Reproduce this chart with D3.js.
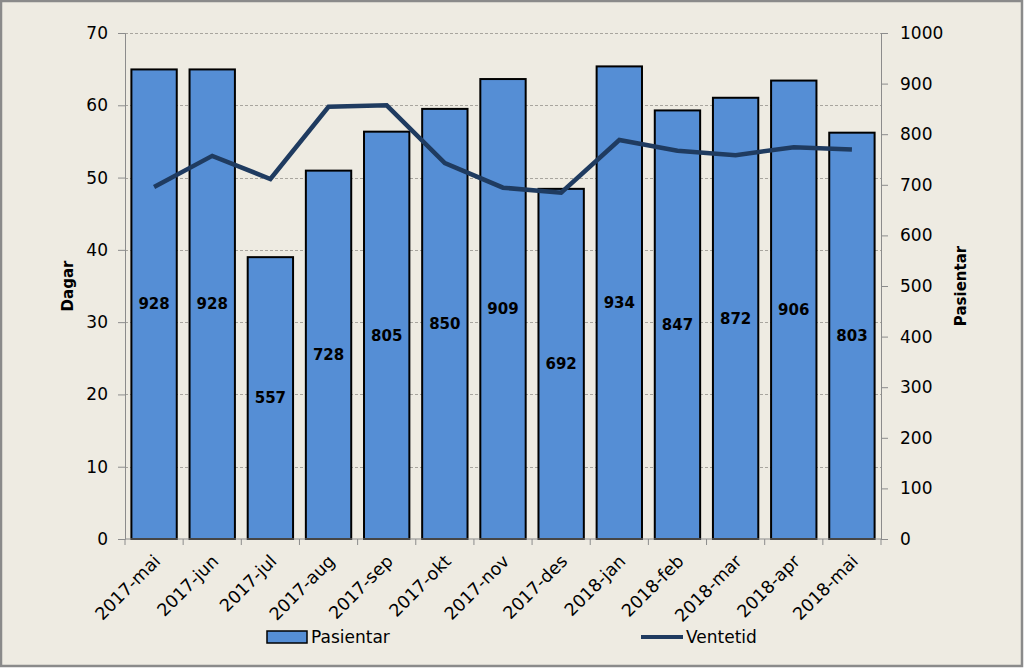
<!DOCTYPE html>
<html>
<head>
<meta charset="utf-8">
<script src="https://cdn.jsdelivr.net/npm/d3@7"></script>
<style>
  body { margin: 0; background: #fff; }
  svg { display: block; font-family: "DejaVu Sans", Verdana, sans-serif; }
</style>
</head>
<body>
<div id="chart"></div>
<script>
// data
const months = ["2017-mai", "2017-jun", "2017-jul", "2017-aug", "2017-sep", "2017-okt", "2017-nov",
  "2017-des", "2018-jan", "2018-feb", "2018-mar", "2018-apr", "2018-mai"];
const pasientar = [928, 928, 557, 728, 805, 850, 909, 692, 934, 847, 872, 906, 803];
const ventetid = [48.7, 53.0, 49.8, 59.8, 60.0, 52.0, 48.6, 47.9, 55.2, 53.7, 53.1, 54.2, 53.9];
const leftTicks = [0, 10, 20, 30, 40, 50, 60, 70];
const rightTicks = [0, 100, 200, 300, 400, 500, 600, 700, 800, 900, 1000];

const W = 1024, H = 669;
const plot = { left: 125, right: 881, top: 33, bottom: 539 };

const svg = d3.select("#chart").append("svg")
  .attr("width", W).attr("height", H);

// background + frame
svg.append("rect").attr("x", 1).attr("y", 1).attr("width", W - 3).attr("height", H - 4)
  .attr("fill", "#eeebe2").attr("stroke", "#8a8a8a").attr("stroke-width", 2.5);

const x = d3.scaleBand().domain(months).range([plot.left, plot.right]).paddingInner(0.22).paddingOuter(0.11);
const yL = d3.scaleLinear().domain([0, 70]).range([plot.bottom, plot.top]);
const yR = d3.scaleLinear().domain([0, 1000]).range([plot.bottom, plot.top]);

// gridlines
svg.append("g").selectAll("line").data(leftTicks.filter(d => d > 0)).join("line")
  .attr("x1", plot.left).attr("x2", plot.right)
  .attr("y1", d => Math.round(yL(d)) + 0.5).attr("y2", d => Math.round(yL(d)) + 0.5)
  .attr("stroke", "#a8a59e").attr("stroke-dasharray", "3,2").attr("stroke-width", 1);

// bars
svg.append("g").selectAll("rect").data(pasientar).join("rect")
  .attr("x", (d, i) => x(months[i]))
  .attr("y", d => yR(d))
  .attr("width", x.bandwidth())
  .attr("height", d => plot.bottom - yR(d))
  .attr("fill", "#558ed5").attr("stroke", "#000").attr("stroke-width", 2);

// value labels
svg.append("g").selectAll("text").data(pasientar).join("text")
  .attr("x", (d, i) => x(months[i]) + x.bandwidth() / 2)
  .attr("y", d => (yR(d) + plot.bottom) / 2)
  .attr("text-anchor", "middle").attr("dy", "0.35em")
  .attr("font-size", 15).attr("font-weight", "bold").attr("fill", "#000")
  .text(d => d);

// line
const line = d3.line()
  .x((d, i) => x(months[i]) + x.bandwidth() / 2)
  .y(d => yL(d));
svg.append("path").datum(ventetid).attr("d", line)
  .attr("fill", "none").attr("stroke", "#1f3b60").attr("stroke-width", 4.5)
  .attr("stroke-linejoin", "miter");

// axes
const axisStyle = g => {
  g.selectAll(".domain").attr("stroke", "#8c8c8c");
  g.selectAll(".tick line").attr("stroke", "#8c8c8c");
  g.selectAll("text").attr("font-size", 17).attr("fill", "#000")
    .attr("font-family", "'DejaVu Sans', Verdana, sans-serif");
};

svg.append("g").attr("transform", `translate(${plot.left},0)`)
  .call(d3.axisLeft(yL).tickValues(leftTicks).tickSizeOuter(0).tickSize(7).tickPadding(10))
  .call(axisStyle);

svg.append("g").attr("transform", `translate(${plot.right},0)`)
  .call(d3.axisRight(yR).tickValues(rightTicks).tickFormat(d3.format("d"))
    .tickSizeOuter(0).tickSize(7).tickPadding(12))
  .call(axisStyle);

// bottom axis with ticks at band boundaries
const xAxis = svg.append("g").attr("transform", `translate(0,${plot.bottom})`);
xAxis.append("line").attr("x1", plot.left).attr("x2", plot.right)
  .attr("stroke", "#8c8c8c");
const bounds = d3.range(months.length + 1).map(i => plot.left + i * (plot.right - plot.left) / months.length);
xAxis.selectAll("line.tk").data(bounds).join("line").attr("class", "tk")
  .attr("x1", d => d).attr("x2", d => d).attr("y1", 0).attr("y2", 6)
  .attr("stroke", "#8c8c8c");
xAxis.selectAll("text").data(months).join("text")
  .attr("transform", d => `translate(${x(d) + x.bandwidth() / 2 + 3},${19}) rotate(-45)`)
  .attr("text-anchor", "end").attr("dy", "0.35em")
  .attr("font-size", 17.5).attr("fill", "#000")
  .text(d => d);

// axis titles
svg.append("text").attr("transform", "translate(73,286) rotate(-90)")
  .attr("text-anchor", "middle").attr("font-size", 15).attr("font-weight", "bold").text("Dagar");
svg.append("text").attr("transform", "translate(966,286) rotate(-90)")
  .attr("text-anchor", "middle").attr("font-size", 15).attr("font-weight", "bold").text("Pasientar");

// legend
const leg = svg.append("g");
leg.append("rect").attr("x", 267).attr("y", 631).attr("width", 40).attr("height", 12)
  .attr("fill", "#558ed5").attr("stroke", "#000").attr("stroke-width", 1.5);
leg.append("text").attr("x", 311).attr("y", 637).attr("dy", "0.35em")
  .attr("font-size", 17).text("Pasientar");
leg.append("line").attr("x1", 641).attr("x2", 683).attr("y1", 637).attr("y2", 637)
  .attr("stroke", "#1f3b60").attr("stroke-width", 4);
leg.append("text").attr("x", 686).attr("y", 637).attr("dy", "0.35em")
  .attr("font-size", 17).text("Ventetid");
</script>
</body>
</html>
